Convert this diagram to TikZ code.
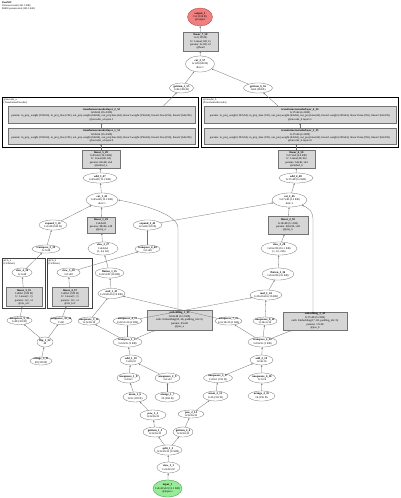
\documentclass[tikz,border=0pt]{standalone}
\usepackage{fontspec}
\setmainfont{Liberation Serif}
\usetikzlibrary{arrows.meta,calc,shapes.geometric}
\newcommand\ND[6]{\node[#1, minimum width=#4pt, minimum height=#5pt, label={[txt]center:{#6}}] (#2) at (#3) {};}
\begin{document}
\begin{tikzpicture}[x=1pt,y=-1pt,
  txt/.style={font=\fontsize{2.8}{3.35}\selectfont, align=center, inner sep=0pt, text=black},
  el/.style={draw=black!55, line width=0.3pt, ellipse, inner sep=0pt, fill=white},
  bx/.style={draw=black!55, line width=0.3pt, rectangle, inner sep=0pt, fill=black!16},
  outn/.style={el, fill={rgb,255:red,240;green,128;blue,128}, draw={rgb,255:red,170;green,60;blue,60}},
  inn/.style={el, fill={rgb,255:red,152;green,235;blue,152}, draw={rgb,255:red,60;green,140;blue,60}},
  clus/.style={draw=black, line width=1pt, rectangle, inner sep=0pt},
  sclus/.style={draw=black!75, line width=0.9pt, rectangle, inner sep=0pt},
  clab/.style={font=\fontsize{2.6}{3.0}\selectfont, align=left, inner sep=0pt, anchor=north west},
  edge/.style={draw=black!55, line width=0.3pt, -{Stealth[length=1.8pt,width=1.5pt]}}]
\fill[white] (0,0) rectangle (400,498);
\useasboundingbox (0,0) rectangle (400,498);

\node[clab] (title) at (2,1) {\textbf{DualViT}\\58 tensors total (241.5 KB)\\88450 params total (345.5 KB)};

% clusters
\node[clus, minimum width=196pt, minimum height=50pt] (cl1) at (100,122) {};
\node[clus, minimum width=197pt, minimum height=50pt] (cl2) at (300,122) {};
\node[sclus, minimum width=43pt, minimum height=50pt] (c1) at (23.5,283) {};
\node[sclus, minimum width=45pt, minimum height=50pt] (c2) at (69.5,283) {};
\node[clab] (cl1l) at ([shift={(2,1.5)}]cl1.north west) {@encoder\_a\\(TransformerEncoder)};
\node[clab] (cl2l) at ([shift={(2,1.5)}]cl2.north west) {@encoder\_b\\(TransformerEncoder)};
\node[clab] (c1l) at ([shift={(1.5,1.5)}]c1.north west) {@cls\_a\\(ClsToken)};
\node[clab] (c2l) at ([shift={(1.5,1.5)}]c2.north west) {@cls\_b\\(ClsToken)};

% top
\ND{outn}{out}{200,17}{25}{18}{\textbf{output\_1}\\1x2 (136 B)\\@output}
\ND{bx}{lin3}{200.5,41.5}{35}{19}{\textbf{linear\_7\_58}\\1x2 (136 B)\\fc: Linear(128, 2)\\params: 2x128, x2\\@head}
\ND{el}{cat2}{200,64}{29}{16}{\textbf{cat\_3\_57}\\1x128 (640 B)\\dim=1}
\ND{el}{gA}{181.5,88}{24}{10}{\textbf{getitem\_5\_55}\\1x64 (384 B)}
\ND{el}{gB}{258,88}{29}{10}{\textbf{getitem\_6\_56}\\1x64 (384 B)}

% transformer layers
\ND{bx}{tA1}{101.5,114.5}{187}{17}{\textbf{transformerencoderlayer\_2\_52}\\1x65x64 (16.4 KB)\\params: in\_proj\_weight (192x64), in\_proj\_bias (192), out\_proj.weight (64x64), out\_proj.bias (64), linear1.weight (256x64), linear1.bias (256), linear2 (64x256)\\@encoder\_a.layers.1}
\ND{bx}{tA2}{101.5,136}{187}{16}{\textbf{transformerencoderlayer\_1\_51}\\1x65x64 (16.4 KB)\\params: in\_proj\_weight (192x64), in\_proj\_bias (192), out\_proj.weight (64x64), out\_proj.bias (64), linear1.weight (256x64), linear1.bias (256), linear2 (64x256)\\@encoder\_a.layers.0}
\ND{bx}{tB1}{300,114.5}{192}{17}{\textbf{transformerencoderlayer\_4\_54}\\1x17x64 (4.4 KB)\\params: in\_proj\_weight (192x64), in\_proj\_bias (192), out\_proj.weight (64x64), out\_proj.bias (64), linear1.weight (256x64), linear1.bias (256), linear2 (64x256)\\@encoder\_b.layers.1}
\ND{bx}{tB2}{300,136}{192}{16}{\textbf{transformerencoderlayer\_3\_53}\\1x17x64 (4.4 KB)\\params: in\_proj\_weight (192x64), in\_proj\_bias (192), out\_proj.weight (64x64), out\_proj.bias (64), linear1.weight (256x64), linear1.bias (256), linear2 (64x256)\\@encoder\_b.layers.0}

\ND{bx}{lin2L}{101,159}{38}{18}{\textbf{linear\_5\_49}\\1x65x64 (16.4 KB)\\fc: Linear(48, 64)\\params: 64x48, x64\\@embed\_a}
\ND{bx}{lin2R}{296.5,159}{37}{18}{\textbf{linear\_6\_50}\\1x17x64 (4.4 KB)\\fc: Linear(48, 64)\\params: 64x48, x64\\@embed\_b}
\ND{el}{vTL}{100,178}{34}{10}{\textbf{add\_3\_47}\\1x65x48 (12.2 KB)}
\ND{el}{vTR}{296,178}{34}{10}{\textbf{add\_4\_48}\\1x17x48 (3.2 KB)}
\ND{el}{catL}{102,200}{32}{14}{\textbf{cat\_1\_45}\\1x65x48 (12.2 KB)\\dim=1}
\ND{el}{catR}{289.5,200}{35}{14}{\textbf{cat\_2\_46}\\1x17x48 (3.2 KB)\\dim=1}
\ND{bx}{linL}{101,225}{28}{16}{\textbf{linear\_1\_29}\\1x64x48\\params: 48x64, x48\\@proj\_a}
\ND{bx}{linR}{288,225}{40}{18}{\textbf{linear\_2\_30}\\1x16x48 (3.1 KB)\\params: 48x256, x48\\@proj\_b}
\ND{el}{expL}{53,225}{28}{10}{\textbf{expand\_1\_41}\\1x1x48 (320 B)}
\ND{el}{expR}{147.5,225}{29}{10}{\textbf{expand\_2\_42}\\1x1x48 (320 B)}
\ND{el}{vL}{103,248.5}{30}{13}{\textbf{view\_2\_27}\\1x64x64\\(1, 64, 64)}
\ND{el}{vR}{279,248.5}{36}{13}{\textbf{view\_3\_28}\\1x16x256 (16.1 KB)\\(1, 16, 256)}
\ND{el}{trL}{46,249}{28}{8}{\textbf{transpose\_3\_39}\\1x1x48}
\ND{el}{trR}{147.5,249}{25}{8}{\textbf{transpose\_4\_40}\\1x1x48}

% small clusters content
\ND{el}{c1e}{22,272.5}{20}{9}{\textbf{view\_4\_36}\\1x1x48}
\ND{bx}{c1b}{24,297}{36}{19}{\textbf{linear\_3\_35}\\1x48x1 (320 B)\\fc: Linear(1, 1)\\params: 1x1, x1\\@cls\_a.fc}
\ND{el}{c2e}{68.5,272.5}{23}{9}{\textbf{view\_5\_38}\\1x1x48}
\ND{bx}{c2b}{70,297}{36}{19}{\textbf{linear\_4\_37}\\1x48x1 (320 B)\\fc: Linear(1, 1)\\params: 1x1, x1\\@cls\_b.fc}

\ND{el}{flL}{109.5,273}{29}{10}{\textbf{flatten\_1\_25}\\1x32x128 (16 KB)}
\ND{el}{flR}{278,274}{32}{12}{\textbf{flatten\_2\_26}\\1x16x256 (16 KB)}
\ND{el}{sqL}{111.5,293.5}{27}{10}{\textbf{mul\_1\_23}\\1x32x8x16 (16 KB)}
\ND{el}{sqR}{266,295}{32}{10}{\textbf{mul\_2\_24}\\1x16x16x16 (16 KB)}
\ND{bx}{embL}{179.5,320}{65}{20}{\textbf{embedding\_1\_43}\\1x65x48 (12.2 KB)\\emb: Embedding(65, 48, padding\_idx=0)\\params: 65x48\\@pos\_a}
\ND{bx}{embR}{315,321}{64}{18}{\textbf{embedding\_2\_44}\\1x17x48 (3.2 KB)\\emb: Embedding(17, 48, padding\_idx=0)\\params: 17x48\\@pos\_b}

\ND{el}{u1}{19.5,320.5}{25}{8}{\textbf{unsqueeze\_9\_33}\\1x48 (320 B)}
\ND{el}{u2}{61,320.5}{22}{8}{\textbf{unsqueeze\_10\_34}\\1x48}
\ND{el}{u3}{89,321}{22}{8}{\textbf{unsqueeze\_3\_12}\\1x1x32x16}
\ND{el}{u4}{127.5,321}{29}{8}{\textbf{unsqueeze\_4\_13}\\1x32x1x16 (2 KB)}
\ND{el}{u5}{228.5,321}{27}{8}{\textbf{unsqueeze\_7\_21}\\1x1x16x16 (1 KB)}
\ND{el}{u6}{265,321}{24}{8}{\textbf{unsqueeze\_8\_22}\\1x16x1x16}
\ND{el}{fl1}{45,342}{16}{10}{\textbf{flip\_1\_32}\\48}
\ND{el}{ct1}{127.5,342}{29}{10}{\textbf{transpose\_1\_11}\\1x32x16 (2 KB)}
\ND{el}{ct2}{262.5,342}{29}{10}{\textbf{transpose\_2\_20}\\1x16x16 (1 KB)}
\ND{el}{ar1}{41,361}{22}{8}{\textbf{arange\_3\_31}\\48 (320 B)}
\ND{el}{ad1}{131,360}{22}{10}{\textbf{add\_1\_10}\\1x16x32}
\ND{el}{ad2}{261.5,360}{23}{10}{\textbf{add\_2\_19}\\1x16x16}
\ND{el}{ra}{128.5,378}{23}{10}{\textbf{unsqueeze\_1\_8}\\1x16x1}
\ND{el}{rb}{167.5,378}{25}{10}{\textbf{unsqueeze\_2\_9}\\1x1x32}
\ND{el}{rc}{218,378}{29}{9}{\textbf{unsqueeze\_5\_17}\\1x16x1 (192 B)}
\ND{el}{rd}{262,378}{27}{10}{\textbf{unsqueeze\_6\_18}\\1x1x16}
\ND{el}{qa}{135,397}{24}{10}{\textbf{mean\_1\_6}\\1x16 (192 B)}
\ND{el}{qb}{167.5,397}{25}{10}{\textbf{arange\_1\_7}\\32 (384 B)}
\ND{el}{qc}{215.5,396}{25}{10}{\textbf{mean\_2\_15}\\1x16 (192 B)}
\ND{el}{qd}{261.5,396}{27}{10}{\textbf{arange\_2\_16}\\16 (256 B)}
\ND{el}{pa}{153,415}{26}{10}{\textbf{pow\_1\_5}\\1x3x16x32}
\ND{el}{pb}{191,414}{26}{8}{\textbf{pow\_2\_14}\\1x3x16x32}
\ND{el}{ga}{155,432}{24}{10}{\textbf{getitem\_1\_3}\\1x3x16x32}
\ND{el}{gb}{183,432}{20}{10}{\textbf{getitem\_2\_4}\\1x3x16x32}
\ND{el}{sp}{168,450}{28}{10}{\textbf{split\_1\_2}\\1x3x32x32 (12 KB)}
\ND{el}{v1}{168.5,467.5}{23}{11}{\textbf{view\_1\_1}\\1x3x32x32}
\ND{inn}{inp}{167.5,488.5}{29}{17}{\textbf{input\_1}\\1x3x32x32 (12.1 KB)\\@input.x}

% edges
\draw[edge] (lin3) -- (out);
\draw[edge] (cat2) -- (lin3);
\draw[edge] (gA) -- (cat2);
\draw[edge] (gB) -- (cat2);
\draw[edge] ([xshift=62pt]tA1.north) -- (gA);
\draw[edge] ([xshift=-22pt]tB1.north) -- (gB);
\draw[edge] (tA2) -- (tA1);
\draw[edge] (tB2) -- (tB1);
\draw[edge] (lin2L) -- (lin2L |- tA2.south);
\draw[edge] (lin2R) -- (lin2R |- tB2.south);
\draw[edge] (vTL) -- (lin2L);
\draw[edge] (vTR) -- (lin2R);
\draw[edge] (catL) -- (vTL);
\draw[edge] (catR) -- (vTR);
\draw[edge] (linL) -- (catL);
\draw[edge] (linR) -- (catR);
\draw[edge] (expL) -- (catL);
\draw[edge] (expR) -- (catR);
\draw[edge] (vL) -- (linL);
\draw[edge] (vR) -- (linR);
\draw[edge] (trL) -- (expL);
\draw[edge] (trR) -- (expR);
\draw[edge] (c1e) -- (trL);
\draw[edge] (c2e) -- (trR);
\draw[edge] (c1b) -- (c1e);
\draw[edge] (c2b) -- (c2e);
\draw[edge] (flL) -- (vL);
\draw[edge] (flR) -- (vR);
\draw[edge] (sqL) -- (flL);
\draw[edge] (sqR) -- (flR);
\draw[edge] ([xshift=-1.5pt]embL.north) -- ++(0,-82) .. controls (178,214) and (140,204) .. (catL.east);
\draw[edge] ([xshift=-2pt]embR.north) -- ++(0,-92) .. controls (313,212) and (310,209) .. (catR.south east);
\draw[edge] (u1) -- (c1b);
\draw[edge] (u2) -- (c2b);
\draw[edge] (u3) -- (sqL);
\draw[edge] (u5) -- (sqL);
\draw[edge] (u4) -- (sqR);
\draw[edge] (u6) -- (sqR);
\draw[edge] (fl1) -- (u1);
\draw[edge] (fl1) -- (u2);
\draw[edge] (ar1) -- (fl1);
\draw[edge] (ct1) -- (u3);
\draw[edge] (ct1) -- (u4);
\draw[edge] (ct1) -- (embL);
\draw[edge] (ct2) -- (u5);
\draw[edge] (ct2) -- (u6);
\draw[edge] (ct2) -- (embR);
\draw[edge] (ad1) -- (ct1);
\draw[edge] (ad2) -- (ct2);
\draw[edge] (ra) -- (ad1);
\draw[edge] (rb) -- (ad1);
\draw[edge] (rc) -- (ad2);
\draw[edge] (rd) -- (ad2);
\draw[edge] (qa) -- (ra);
\draw[edge] (qb) -- (rb);
\draw[edge] (qc) -- (rc);
\draw[edge] (qd) -- (rd);
\draw[edge] (pa) -- (qa);
\draw[edge] (pb) -- (qc);
\draw[edge] (ga) -- (pa);
\draw[edge] (gb) -- (pb);
\draw[edge] (sp) -- (ga);
\draw[edge] (sp) -- (gb);
\draw[edge] (v1) -- (sp);
\draw[edge] (inp) -- (v1);
\end{tikzpicture}
\end{document}
